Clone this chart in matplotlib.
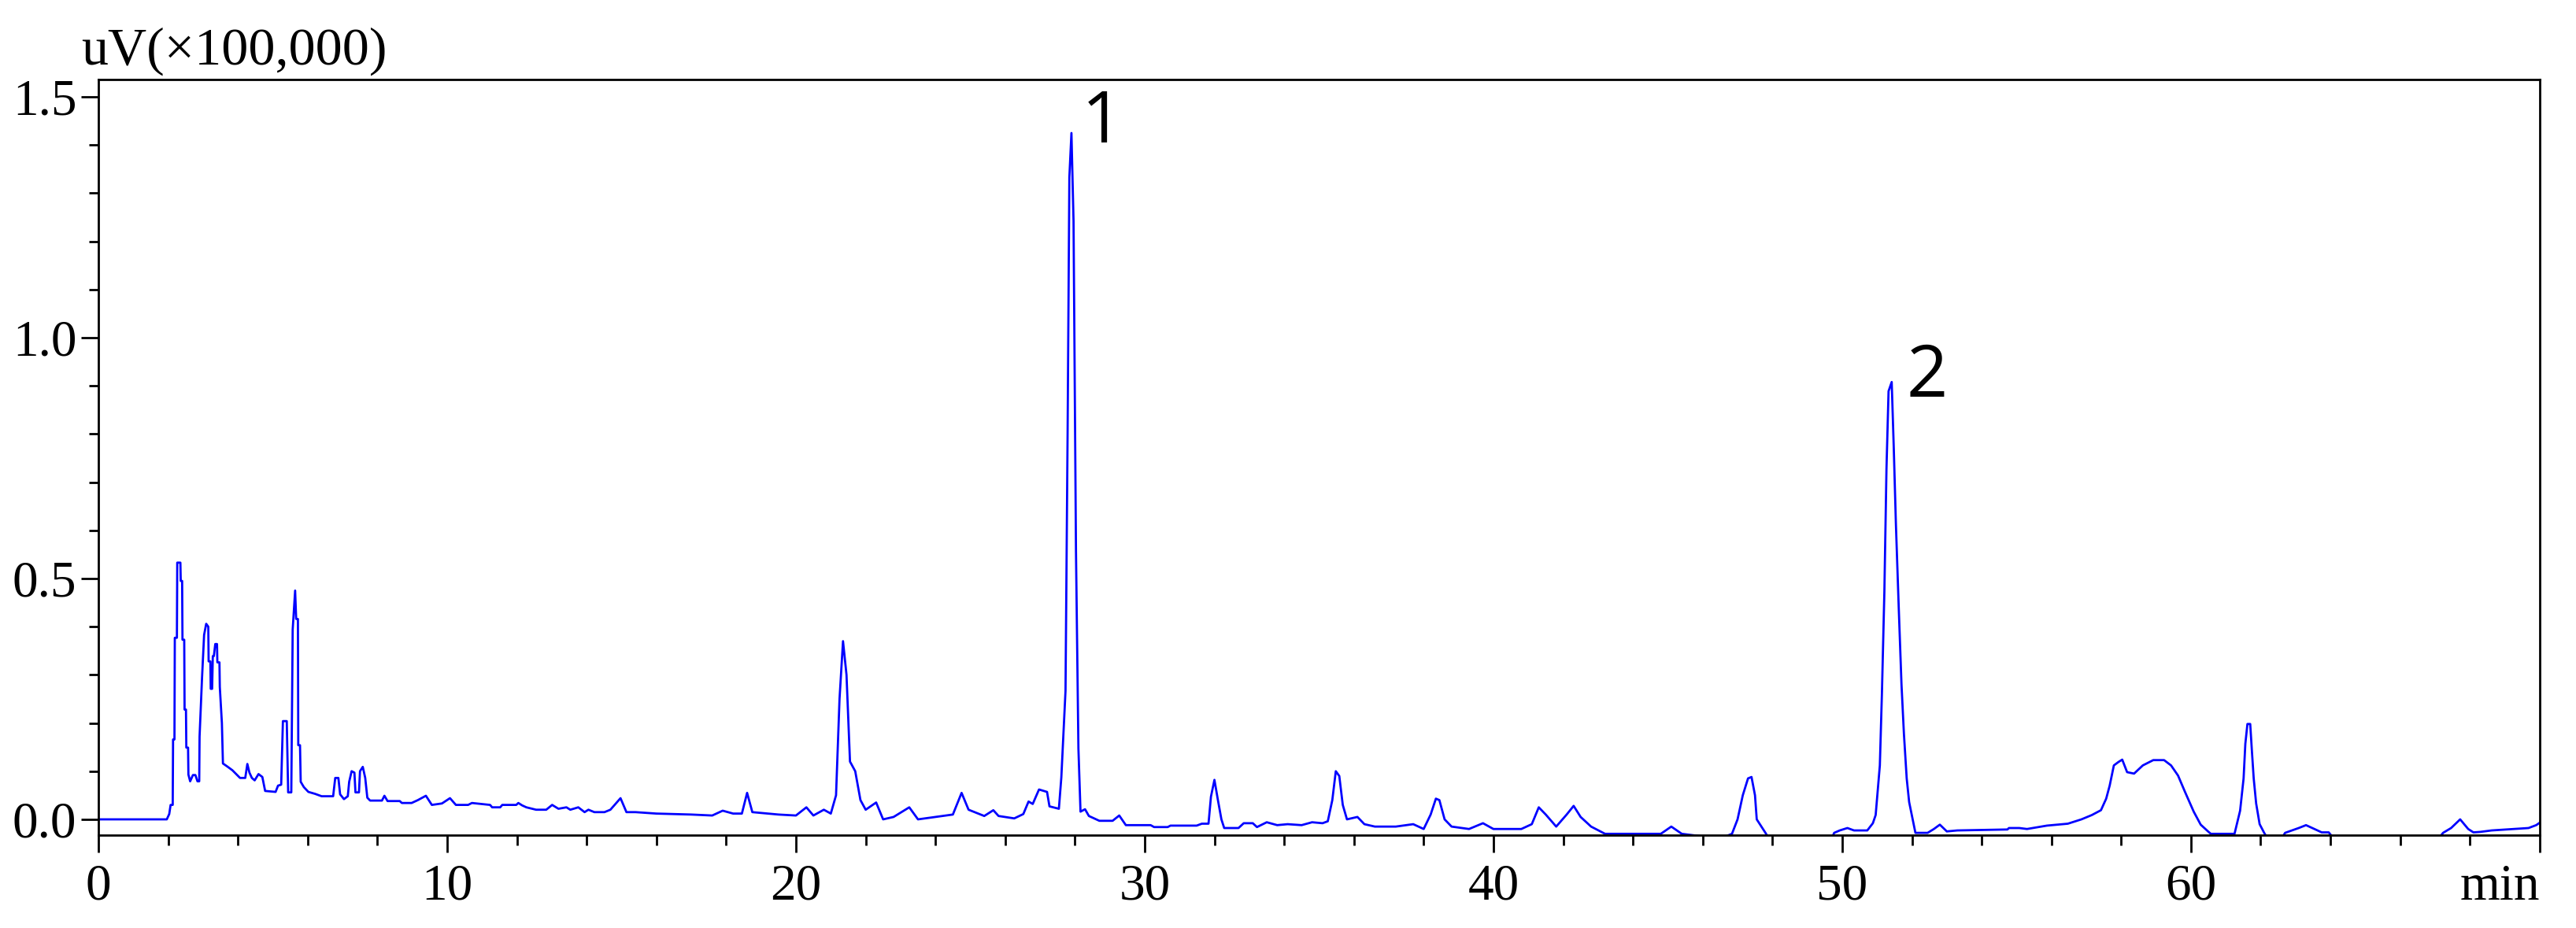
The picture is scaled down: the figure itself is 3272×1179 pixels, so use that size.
import matplotlib.pyplot as plt
from matplotlib.ticker import MultipleLocator, FormatStrFormatter

# retention time (min) and detector signal (uV x 100,000)
time = [0, 1.96, 2.03, 2.07, 2.13, 2.14, 2.18, 2.19, 2.25, 2.26, 2.35, 2.36, 2.40, 2.41, 2.46, 2.47,
        2.51, 2.52, 2.57, 2.58, 2.63, 2.71, 2.78, 2.84, 2.89, 2.90, 2.97, 3.03, 3.09, 3.15, 3.16, 3.21,
        3.22, 3.26, 3.28, 3.31, 3.35, 3.40, 3.41, 3.47, 3.48, 3.54, 3.57, 3.69, 3.84, 3.95, 4.06, 4.21,
        4.27, 4.33, 4.40, 4.48, 4.59, 4.70, 4.78, 5.08, 5.15, 5.24, 5.29, 5.40, 5.44, 5.53, 5.57, 5.64,
        5.67, 5.72, 5.73, 5.78, 5.80, 5.89, 6.02, 6.21, 6.40, 6.73, 6.79, 6.88, 6.93, 7.04, 7.15, 7.19,
        7.26, 7.34, 7.37, 7.47, 7.50, 7.58, 7.65, 7.71, 7.79, 8.13, 8.20, 8.29, 8.64, 8.70, 8.98, 9.16,
        9.39, 9.56, 9.85, 10.08, 10.25, 10.60, 10.71, 11.23, 11.29, 11.52, 11.58, 11.98, 12.04, 12.15,
        12.27, 12.55, 12.84, 13.01, 13.19, 13.42, 13.53, 13.76, 13.94, 14.05, 14.22, 14.51, 14.68, 14.97,
        15.14, 15.4, 16.0, 17.0, 17.6, 17.9, 18.2, 18.45, 18.6, 18.75, 19.5, 20.0, 20.3, 20.5, 20.8,
        21.0, 21.15, 21.25, 21.35, 21.45, 21.55, 21.7, 21.85, 22.0, 22.3, 22.5, 22.8, 23.25, 23.5, 24.0,
        24.5, 24.75, 24.95, 25.4, 25.66, 25.81, 26.26, 26.52, 26.67, 26.79, 26.97, 27.2, 27.27, 27.54,
        27.61, 27.73, 27.79, 27.84, 27.9, 27.96, 28.03, 28.1, 28.16, 28.29, 28.4, 28.7, 29.08, 29.27,
        29.46, 30.17, 30.27, 30.66, 30.74, 31.49, 31.64, 31.83, 31.9, 32.0, 32.1, 32.2, 32.28, 32.69,
        32.84, 33.1, 33.22, 33.5, 33.8, 34.1, 34.5, 34.8, 35.1, 35.25, 35.38, 35.48, 35.58, 35.68, 35.8,
        36.1, 36.3, 36.6, 37.2, 37.7, 38.0, 38.2, 38.35, 38.45, 38.6, 38.8, 39.3, 39.7, 40.0, 40.8, 41.1,
        41.3, 41.5, 41.8, 42.1, 42.3, 42.5, 42.8, 43.2, 44.8, 45.1, 45.4, 46.5, 46.84, 47.0, 47.15,
        47.3, 47.4, 47.5, 47.55, 47.8, 47.9, 49.7, 49.77, 49.93, 50.15, 50.34, 50.72, 50.88, 50.96,
        51.0, 51.08, 51.14, 51.21, 51.27, 51.33, 51.42, 51.48, 51.54, 51.62, 51.70, 51.77, 51.85, 51.92,
        52.02, 52.1, 52.45, 52.63, 52.8, 53.0, 53.3, 54.74, 54.78, 55.08, 55.3, 55.87, 56.47, 56.86,
        57.16, 57.42, 57.57, 57.67, 57.79, 57.92, 58.03, 58.17, 58.37, 58.62, 58.92, 59.23, 59.43, 59.63,
        59.83, 60.08, 60.28, 60.49, 60.57, 61.25, 61.41, 61.51, 61.56, 61.62, 61.70, 61.75, 61.80, 61.87,
        61.97, 62.1, 62.2, 62.6, 62.7, 63.09, 63.3, 63.54, 63.75, 63.95, 64.1, 67.1, 67.23, 67.46, 67.72,
        67.95, 68.1, 68.3, 68.62, 69.68, 69.9, 70.0]
signal = [0, 0, 0.011, 0.030, 0.030, 0.166, 0.166, 0.377, 0.377, 0.533, 0.533, 0.495, 0.495, 0.373, 0.373, 0.228,
          0.228, 0.149, 0.149, 0.093, 0.079, 0.092, 0.092, 0.079, 0.079, 0.172, 0.293, 0.383, 0.406, 0.400, 0.328, 0.328,
          0.271, 0.271, 0.339, 0.339, 0.364, 0.364, 0.326, 0.326, 0.275, 0.200, 0.116, 0.110, 0.102, 0.094, 0.086, 0.086,
          0.115, 0.097, 0.086, 0.081, 0.094, 0.088, 0.059, 0.057, 0.070, 0.072, 0.204, 0.204, 0.056, 0.056, 0.394, 0.475,
          0.416, 0.416, 0.154, 0.154, 0.078, 0.067, 0.057, 0.053, 0.048, 0.048, 0.086, 0.086, 0.052, 0.042, 0.048, 0.078,
          0.100, 0.097, 0.056, 0.056, 0.100, 0.109, 0.086, 0.045, 0.039, 0.039, 0.049, 0.038, 0.038, 0.034, 0.034, 0.040,
          0.049, 0.030, 0.033, 0.044, 0.030, 0.030, 0.034, 0.030, 0.025, 0.025, 0.030, 0.030, 0.034, 0.029,
          0.025, 0.020, 0.020, 0.030, 0.022, 0.025, 0.020, 0.025, 0.015, 0.020, 0.015, 0.015, 0.020, 0.044,
          0.015, 0.015, 0.012, 0.010, 0.008, 0.018, 0.012, 0.012, 0.055, 0.015, 0.010, 0.008, 0.025, 0.008, 0.020,
          0.012, 0.050, 0.250, 0.370, 0.300, 0.120, 0.100, 0.040, 0.020, 0.035, 0.000, 0.005, 0.025, 0.000, 0.005,
          0.010, 0.055, 0.020, 0.007, 0.019, 0.007, 0.002, 0.011, 0.037, 0.032, 0.062, 0.057, 0.027, 0.022,
          0.087, 0.267, 0.802, 1.333, 1.425, 1.242, 0.557, 0.147, 0.016, 0.021, 0.007, -0.003, -0.003, 0.008,
          -0.012, -0.012, -0.016, -0.016, -0.013, -0.013, -0.009, -0.009, 0.047, 0.082, 0.040, 0.000, -0.018, -0.018,
          -0.008, -0.008, -0.016, -0.006, -0.012, -0.010, -0.012, -0.006, -0.008, -0.004, 0.040, 0.100, 0.090, 0.030, 0.000,
          0.005, -0.010, -0.015, -0.015, -0.010, -0.020, 0.010, 0.043, 0.040, 0.000, -0.015, -0.020, -0.008, -0.020, -0.020, -0.010,
          0.025, 0.010, -0.015, 0.010, 0.028, 0.005, -0.015, -0.030, -0.030, -0.015, -0.030, -0.040, -0.030, 0.000, 0.050,
          0.085, 0.088, 0.050, 0.000, -0.028, -0.040, -0.040, -0.028, -0.023, -0.018, -0.023, -0.023, -0.008, 0.009,
          0.043, 0.112, 0.263, 0.473, 0.728, 0.889, 0.908, 0.769, 0.614, 0.443, 0.281, 0.178, 0.085, 0.036,
          0.000, -0.028, -0.028, -0.020, -0.011, -0.025, -0.023, -0.021, -0.018, -0.018, -0.020, -0.013, -0.009, 0.000,
          0.009, 0.019, 0.043, 0.070, 0.112, 0.119, 0.124, 0.098, 0.095, 0.112, 0.123, 0.123, 0.112, 0.091,
          0.057, 0.016, -0.011, -0.025, -0.030, -0.030, 0.018, 0.085, 0.157, 0.198, 0.198, 0.140, 0.085, 0.033,
          -0.010, -0.028, -0.040, -0.040, -0.028, -0.018, -0.012, -0.020, -0.027, -0.027, -0.040, -0.040, -0.028, -0.018, 0.000,
          -0.020, -0.027, -0.026, -0.023, -0.018, -0.012, -0.007]

peak_ids = ['1', '2']
peak_x = [28.78, 52.44]
peak_y = [1.444, 0.917]

x_labels = ['0', '10', '20', '30', '40', '50', '60', 'min']

plt.rcParams['font.family'] = ['Liberation Serif', 'DejaVu Serif']

fig = plt.figure(figsize=(32.73, 11.79), dpi=100)
ax = fig.add_axes([0.0382, 0.1001, 0.9474, 0.8142])
ax.plot(time, signal, color='#0000ff', lw=2.0)

ax.set_xlim(0, 70)
ax.set_ylim(-0.0327, 1.536)
ax.xaxis.set_major_locator(MultipleLocator(10))
ax.xaxis.set_minor_locator(MultipleLocator(2))
ax.yaxis.set_major_locator(MultipleLocator(0.5))
ax.yaxis.set_minor_locator(MultipleLocator(0.1))
ax.yaxis.set_major_formatter(FormatStrFormatter('%.1f'))
ax.set_xticks(range(0, 71, 10))
ax.set_xticklabels(x_labels)
ax.get_xticklabels()[-1].set_ha('right')

ax.tick_params(which='major', direction='out', length=16, width=2, labelsize=47, colors='black')
ax.tick_params(which='minor', direction='out', length=9, width=2)
ax.tick_params(axis='x', which='major', pad=10)
ax.tick_params(axis='y', which='major', pad=4)
for s in ax.spines.values():
    s.set_linewidth(2)

fig.text(103 / 3273, 1 - 82 / 1179, 'uV(\u00d7100,000)', fontsize=49, va='baseline', ha='left')

for lab, px, py in zip(peak_ids, peak_x, peak_y):
    ax.text(px, py, lab, fontsize=66, family=['Open Sans', 'DejaVu Sans'], ha='center', va='center')

fig.savefig('out.png', dpi=100)
